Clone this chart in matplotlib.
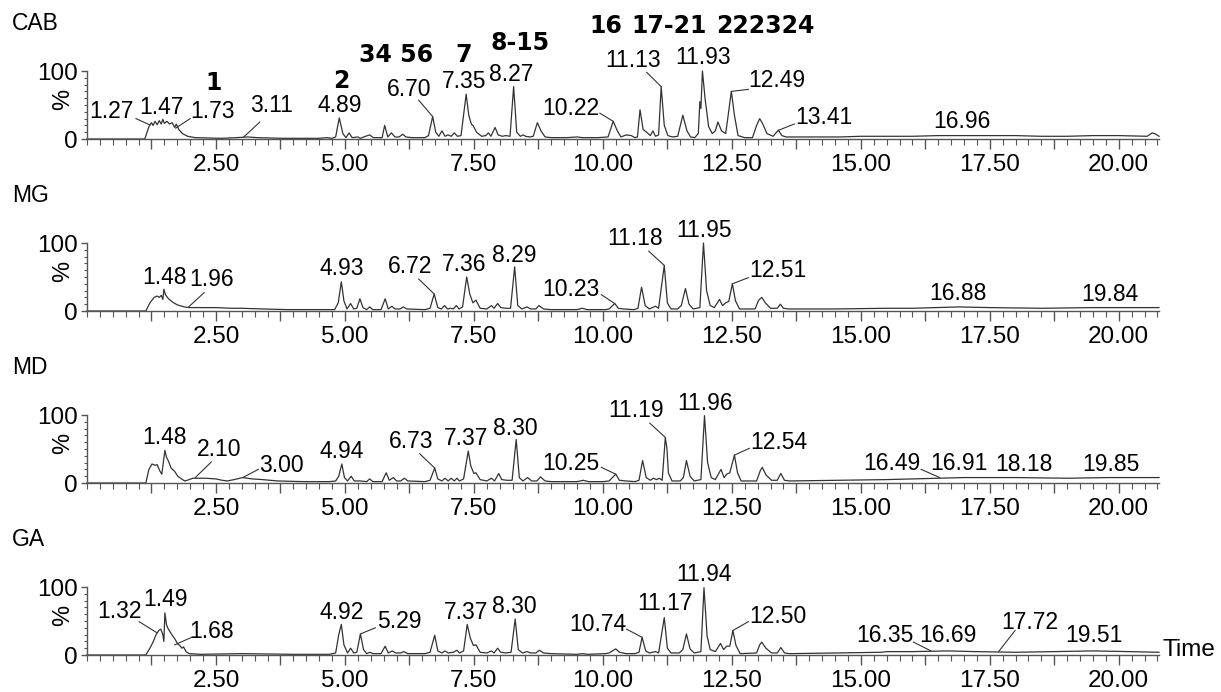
import matplotlib
matplotlib.use("Agg")
import matplotlib.pyplot as plt
from matplotlib import font_manager
from matplotlib.ticker import FixedLocator, MultipleLocator, FuncFormatter

SAMPLES = ["CAB", "MG", "MD", "GA"]
X_MAX = 20.78

# chromatogram traces: retention time (min) and relative intensity (%)
CAB_T = [0.00, 1.12, 1.20, 1.25, 1.28, 1.32, 1.36, 1.40, 1.44, 1.47, 1.50, 1.55, 1.60, 1.65, 1.70,
         1.73, 1.78, 1.85, 1.95, 2.10, 2.60, 2.90, 3.11, 3.30, 3.80, 4.50, 4.65, 4.75, 4.82, 4.89,
         4.96, 5.02, 5.08, 5.14, 5.25, 5.30, 5.40, 5.48, 5.55, 5.72, 5.77, 5.83, 5.90, 5.97, 6.05,
         6.12, 6.18, 6.30, 6.55, 6.62, 6.70, 6.76, 6.82, 6.88, 6.94, 7.00, 7.06, 7.12, 7.18, 7.25,
         7.35, 7.40, 7.45, 7.49, 7.55, 7.65, 7.73, 7.78, 7.83, 7.91, 7.97, 8.05, 8.12, 8.20, 8.27,
         8.33, 8.40, 8.46, 8.50, 8.58, 8.65, 8.73, 8.80, 8.88, 9.00, 9.30, 9.50, 9.60, 9.90, 10.10,
         10.20, 10.28, 10.35, 10.45, 10.55, 10.62, 10.67, 10.72, 10.78, 10.85, 10.92, 10.97, 11.02,
         11.08, 11.13, 11.19, 11.26, 11.35, 11.45, 11.55, 11.63, 11.70, 11.78, 11.85, 11.88, 11.90,
         11.93, 11.98, 12.05, 12.12, 12.18, 12.23, 12.30, 12.38, 12.42, 12.49, 12.55, 12.62, 12.75,
         12.90, 12.98, 13.04, 13.10, 13.18, 13.30, 13.40, 13.47, 13.55, 14.00, 14.60, 15.00, 15.50,
         16.00, 16.50, 17.00, 17.50, 18.00, 18.50, 19.00, 19.50, 20.00, 20.55, 20.65, 20.72, 20.78]
CAB_Y = [0, 0, 18, 24, 20, 26, 21, 27, 22, 29, 23, 26, 22, 24, 17,
         22, 14, 8, 4, 2, 1, 2, 3, 2, 1, 1, 2, 1, 3, 31,
         8, 2, 9, 2, 3, 1, 4, 6, 2, 2, 20, 3, 9, 3, 3,
         7, 3, 2, 2, 5, 33, 10, 4, 12, 4, 6, 4, 9, 4, 5,
         66, 35, 22, 19, 10, 4, 5, 9, 4, 17, 6, 4, 5, 4, 77,
         10, 4, 6, 4, 3, 4, 24, 12, 3, 2, 2, 3, 2, 2, 3,
         26, 12, 3, 6, 5, 2, 3, 43, 14, 10, 5, 12, 4,
         6, 77, 20, 5, 3, 4, 35, 12, 3, 2, 8, 55, 45,
         100, 60, 18, 8, 12, 25, 12, 8, 30, 70, 35, 5, 2,
         2, 20, 30, 22, 8, 4, 13, 5, 3, 3, 3, 4, 4,
         4, 5, 5, 5, 5, 4, 4, 5, 5, 4, 9, 7, 4]

MG_T = [0.00, 1.14, 1.22, 1.30, 1.36, 1.40, 1.44, 1.47, 1.49, 1.52, 1.58, 1.66, 1.75, 1.89, 1.97,
        2.20, 2.50, 2.80, 3.00, 3.40, 3.90, 4.50, 4.80, 4.87, 4.93, 4.98, 5.04, 5.11, 5.17, 5.23,
        5.29, 5.35, 5.42, 5.48, 5.54, 5.70, 5.78, 5.84, 5.91, 5.97, 6.07, 6.13, 6.20, 6.55, 6.65,
        6.73, 6.80, 6.87, 6.93, 6.99, 7.05, 7.10, 7.16, 7.21, 7.28, 7.36, 7.42, 7.48, 7.54, 7.62,
        7.75, 7.84, 7.89, 7.96, 8.02, 8.12, 8.21, 8.29, 8.35, 8.43, 8.53, 8.60, 8.70, 8.76, 8.85,
        9.00, 9.50, 9.60, 9.70, 10.05, 10.12, 10.23, 10.30, 10.40, 10.60, 10.68, 10.75, 10.82,
        10.90, 10.96, 11.02, 11.08, 11.19, 11.25, 11.32, 11.45, 11.52, 11.60, 11.67, 11.75, 11.88,
        11.95, 12.01, 12.08, 12.16, 12.26, 12.32, 12.38, 12.44, 12.51, 12.57, 12.65, 12.95, 13.02,
        13.08, 13.15, 13.25, 13.38, 13.44, 13.50, 13.60, 14.50, 15.50, 16.00, 16.90, 17.50, 18.50,
        19.50, 20.00, 20.50, 20.78]
MG_Y = [0, 0, 12, 20, 22, 20, 23, 17, 32, 24, 18, 13, 9, 6, 5,
        5, 5, 4, 4, 3, 2, 2, 2, 12, 43, 15, 3, 11, 3, 4,
        18, 5, 2, 6, 2, 2, 18, 3, 7, 3, 3, 6, 3, 2, 4,
        25, 5, 3, 8, 3, 4, 3, 8, 3, 6, 50, 25, 12, 16, 4,
        3, 8, 4, 11, 5, 4, 4, 65, 8, 3, 6, 3, 3, 8, 3,
        2, 2, 4, 2, 2, 3, 11, 4, 3, 2, 4, 35, 8,
        3, 5, 7, 4, 67, 12, 3, 3, 8, 33, 10, 3, 5,
        100, 30, 8, 5, 17, 8, 12, 14, 40, 15, 3, 3, 16,
        20, 12, 4, 4, 10, 4, 3, 3, 4, 4, 6, 5, 4,
        5, 5, 5, 5]

MD_T = [0.00, 1.14, 1.20, 1.26, 1.32, 1.36, 1.41, 1.45, 1.48, 1.51, 1.54, 1.58, 1.63, 1.70, 1.76,
        1.85, 1.90, 1.98, 2.05, 2.30, 2.50, 2.62, 2.72, 2.85, 3.02, 3.20, 3.40, 3.70, 4.20, 4.70,
        4.82, 4.88, 4.94, 4.99, 5.05, 5.12, 5.18, 5.30, 5.42, 5.48, 5.54, 5.72, 5.80, 5.86, 5.94,
        6.00, 6.08, 6.15, 6.22, 6.55, 6.65, 6.74, 6.80, 6.88, 6.94, 7.00, 7.06, 7.12, 7.17, 7.22,
        7.30, 7.39, 7.44, 7.50, 7.54, 7.62, 7.75, 7.84, 7.90, 7.98, 8.04, 8.14, 8.24, 8.32, 8.38,
        8.45, 8.54, 8.62, 8.72, 8.79, 8.88, 9.00, 9.50, 9.62, 9.72, 10.00, 10.12, 10.25, 10.32,
        10.45, 10.62, 10.70, 10.77, 10.84, 10.92, 10.98, 11.04, 11.09, 11.15, 11.21, 11.24, 11.27,
        11.34, 11.50, 11.56, 11.62, 11.69, 11.77, 11.90, 11.97, 12.03, 12.10, 12.18, 12.29, 12.35,
        12.40, 12.46, 12.55, 12.61, 12.68, 12.98, 13.05, 13.09, 13.16, 13.27, 13.38, 13.45, 13.52,
        13.62, 14.50, 15.50, 16.50, 17.00, 18.00, 19.00, 19.80, 20.50, 20.78]
MD_Y = [0, 0, 20, 28, 26, 27, 18, 13, 30, 48, 38, 32, 22, 17, 10,
        5, 3, 5, 7, 7, 6, 4, 3, 5, 8, 6, 5, 3, 2, 2,
        3, 10, 28, 8, 3, 10, 3, 3, 2, 6, 2, 2, 15, 4, 8,
        3, 3, 7, 3, 2, 4, 22, 6, 3, 7, 3, 7, 3, 7, 3,
        6, 47, 25, 14, 15, 5, 3, 7, 3, 14, 5, 4, 4, 64, 8,
        3, 8, 3, 3, 9, 3, 2, 2, 4, 2, 2, 3, 13, 4,
        3, 2, 4, 33, 8, 4, 7, 5, 7, 4, 67, 52, 15,
        3, 3, 8, 33, 10, 3, 5, 99, 30, 8, 5, 20, 8,
        13, 15, 41, 15, 3, 3, 18, 23, 12, 4, 4, 14, 4,
        3, 4, 5, 7, 8, 8, 7, 8, 8, 8]

GA_T = [0.00, 1.14, 1.22, 1.28, 1.34, 1.39, 1.43, 1.47, 1.49, 1.51, 1.54, 1.57, 1.62, 1.66, 1.70,
        1.76, 1.80, 1.84, 1.87, 1.92, 1.98, 2.20, 3.00, 4.00, 4.70, 4.82, 4.88, 4.93, 4.98, 5.05,
        5.11, 5.17, 5.23, 5.30, 5.36, 5.42, 5.48, 5.55, 5.70, 5.78, 5.84, 5.92, 5.98, 6.08, 6.14,
        6.22, 6.55, 6.65, 6.74, 6.80, 6.88, 6.94, 7.00, 7.10, 7.17, 7.22, 7.30, 7.37, 7.43, 7.49,
        7.54, 7.62, 7.75, 7.84, 7.89, 7.96, 8.02, 8.12, 8.22, 8.30, 8.36, 8.44, 8.53, 8.60, 8.70,
        8.77, 8.85, 9.00, 9.50, 9.60, 9.70, 10.05, 10.12, 10.25, 10.32, 10.45, 10.62, 10.70, 10.76,
        10.83, 10.90, 10.96, 11.02, 11.08, 11.19, 11.25, 11.32, 11.48, 11.55, 11.62, 11.69, 11.77,
        11.90, 11.96, 12.02, 12.08, 12.18, 12.28, 12.34, 12.40, 12.46, 12.52, 12.58, 12.66, 12.98,
        13.04, 13.08, 13.16, 13.27, 13.38, 13.45, 13.52, 13.62, 14.50, 15.40, 15.50, 16.00, 16.70,
        17.20, 18.00, 18.80, 19.50, 20.20, 20.78]
GA_Y = [0, 0, 10, 19, 30, 36, 38, 30, 20, 62, 45, 39, 33, 28, 24,
        16, 14, 10, 12, 5, 2, 1, 2, 1, 1, 3, 30, 45, 15, 3,
        10, 3, 4, 31, 8, 2, 4, 2, 2, 13, 3, 6, 3, 3, 5,
        2, 2, 4, 29, 6, 3, 6, 3, 4, 7, 3, 6, 45, 25, 14,
        15, 4, 3, 6, 3, 10, 4, 3, 4, 53, 8, 3, 5, 3, 3,
        7, 3, 2, 1, 2, 1, 2, 3, 9, 4, 2, 2, 4, 26,
        6, 3, 4, 5, 3, 55, 10, 3, 3, 8, 31, 9, 3,
        5, 99, 28, 8, 5, 17, 8, 13, 13, 36, 14, 2, 3,
        15, 19, 10, 3, 3, 11, 3, 2, 3, 4, 5, 5, 6,
        5, 4, 5, 6, 5, 4]

# retention-time labels: text, label centre (t, %), leader line (t0, y0, t1, y1) or None
CAB_LABELS = [
    ("1.27", 0.48, 41, (0.95, 30, 1.21, 21)),
    ("1.47", 1.45, 47, None),
    ("1.73", 2.44, 40, (2.00, 30, 1.72, 16)),
    ("3.11", 3.57, 50, (3.35, 25, 3.04, 3)),
    ("4.89", 4.90, 50, None),
    ("6.70", 6.24, 73, (6.43, 57, 6.70, 33)),
    ("7.35", 7.31, 84, None),
    ("8.27", 8.23, 95, None),
    ("10.22", 9.37, 45, (9.94, 38, 10.20, 26)),
    ("11.13", 10.58, 116, (10.85, 98, 11.13, 77)),
    ("11.93", 11.94, 120, None),
    ("12.49", 13.38, 86, (12.82, 73, 12.49, 70)),
    ("13.41", 14.28, 31, (13.71, 22, 13.41, 13)),
    ("16.96", 16.96, 26, None),
]
MG_LABELS = [
    ("1.48", 1.51, 50, None),
    ("1.96", 2.42, 47, (2.27, 27, 1.97, 6)),
    ("4.93", 4.93, 63, None),
    ("6.72", 6.26, 65, (6.43, 47, 6.73, 25)),
    ("7.36", 7.31, 69, None),
    ("8.29", 8.29, 81, None),
    ("10.23", 9.37, 31, (9.97, 24, 10.23, 11)),
    ("11.18", 10.62, 107, (10.89, 88, 11.19, 67)),
    ("11.95", 11.96, 118, None),
    ("12.51", 13.39, 59, (12.82, 49, 12.51, 40)),
    ("16.88", 16.88, 25, None),
    ("19.84", 19.83, 24, None),
]
MD_LABELS = [
    ("1.48", 1.51, 67, None),
    ("2.10", 2.56, 50, (2.41, 31, 2.10, 8)),
    ("3.00", 3.76, 26, (3.32, 20, 3.02, 8)),
    ("4.94", 4.94, 46, None),
    ("6.73", 6.28, 61, (6.45, 43, 6.74, 22)),
    ("7.37", 7.35, 66, None),
    ("8.30", 8.30, 80, None),
    ("10.25", 9.37, 28, (9.97, 23, 10.25, 13)),
    ("11.19", 10.64, 106, (10.91, 88, 11.21, 67)),
    ("11.96", 11.98, 117, None),
    ("12.54", 13.41, 60, (12.84, 51, 12.55, 41)),
    ("16.49", 15.61, 28, (16.17, 20, 16.53, 8)),
    ("16.91", 16.91, 28, None),
    ("18.18", 18.17, 27, None),
    ("19.85", 19.84, 27, None),
]
GA_LABELS = [
    ("1.32", 0.63, 64, (1.01, 49, 1.35, 33)),
    ("1.49", 1.52, 81, None),
    ("1.68", 2.41, 34, (2.03, 26, 1.70, 15)),
    ("4.92", 4.93, 63, None),
    ("5.29", 6.05, 49, (5.59, 40, 5.30, 31)),
    ("7.37", 7.35, 63, None),
    ("8.30", 8.29, 71, None),
    ("10.74", 9.90, 45, (10.46, 38, 10.76, 26)),
    ("11.17", 11.21, 76, None),
    ("11.94", 11.96, 119, None),
    ("12.50", 13.39, 56, (12.82, 49, 12.52, 36)),
    ("16.35", 15.46, 29, (16.02, 19, 16.36, 6)),
    ("16.69", 16.69, 29, None),
    ("17.72", 18.27, 48, (17.99, 36, 17.67, 5)),
    ("19.51", 19.51, 29, None),
]

# compound numbers written above the CAB trace
COMPOUND_TEXT = ["1", "2", "34 56", "7", "8-15", "16", "17-21", "222324"]
COMPOUND_X = [2.46, 4.93, 6.00, 7.31, 8.39, 10.06, 11.29, 13.14]
COMPOUND_Y = [82, 86, 124, 124, 141, 166, 166, 166]

TRACES = {
    "CAB": (CAB_T, CAB_Y, CAB_LABELS),
    "MG": (MG_T, MG_Y, MG_LABELS),
    "MD": (MD_T, MD_Y, MD_LABELS),
    "GA": (GA_T, GA_Y, GA_LABELS),
}

INK = "#333333"
AXIS = "#555555"

installed = {f.name for f in font_manager.fontManager.ttflist}
if "Liberation Sans Narrow" in installed:
    PEAK_FONT, PEAK_SIZE = "Liberation Sans Narrow", 18.5
else:
    PEAK_FONT, PEAK_SIZE = "Liberation Sans", 16.5

plt.rcParams["font.family"] = ["Liberation Sans", "DejaVu Sans"]

W, H = 1221, 692
fig = plt.figure(figsize=(W / 100, H / 100), dpi=100)

x_major = [1.25 * i for i in range(1, 17)]


def x_label(v, pos):
    # only every second major tick (multiples of 2.5) carries a label
    return f"{v:.2f}" if round(v / 1.25) % 2 == 0 else ""


for i, name in enumerate(SAMPLES):
    t, y, labels = TRACES[name]
    y0_px = 139 + 172 * i
    ax = fig.add_axes([87 / W, (H - y0_px) / H, (1159 - 87) / W, 68 / H])
    ax.plot(t, y, color=INK, lw=0.9, clip_on=False)
    ax.set_xlim(0, X_MAX)
    ax.set_ylim(0, 100)

    for side in ("top", "right"):
        ax.spines[side].set_visible(False)
    for side in ("left", "bottom"):
        ax.spines[side].set_color(AXIS)
        ax.spines[side].set_linewidth(1.0)

    ax.xaxis.set_major_locator(FixedLocator(x_major))
    ax.xaxis.set_major_formatter(FuncFormatter(x_label))
    ax.xaxis.set_minor_locator(MultipleLocator(0.25))
    ax.yaxis.set_major_locator(FixedLocator([0, 100]))
    ax.yaxis.set_minor_locator(MultipleLocator(10))
    ax.tick_params(axis="x", which="major", length=7.5, width=1, color=AXIS, pad=3, labelsize=17.5)
    ax.tick_params(axis="x", which="minor", length=4, width=0.8, color=AXIS)
    ax.tick_params(axis="y", which="major", length=4.5, width=1, color=AXIS, pad=2, labelsize=17.5)
    ax.tick_params(axis="y", which="minor", length=2.5, width=0.8, color=AXIS)

    ax.text(-0.022, 0.58, "%", transform=ax.transAxes, rotation=90, fontsize=17,
            ha="center", va="center")
    fig.text(12 / W, 1 - (y0_px - 115) / H, name, fontsize=16.5, ha="left", va="center")

    for text, tx, ty, leader in labels:
        ax.text(tx, ty, text, family=PEAK_FONT, fontsize=PEAK_SIZE, ha="center", va="center",
                clip_on=False)
        if leader is not None:
            ax.plot([leader[0], leader[2]], [leader[1], leader[3]], color=INK, lw=0.8,
                    clip_on=False)

    if name == "CAB":
        for text, tx, ty in zip(COMPOUND_TEXT, COMPOUND_X, COMPOUND_Y):
            ax.text(tx, ty, text, family="DejaVu Sans", fontweight="bold", fontsize=17,
                    ha="center", va="center", clip_on=False)
    if name == "GA":
        ax.text(20.85, 8, "Time", fontsize=17.5, ha="left", va="center", clip_on=False)

fig.savefig("out.png", dpi=100)
